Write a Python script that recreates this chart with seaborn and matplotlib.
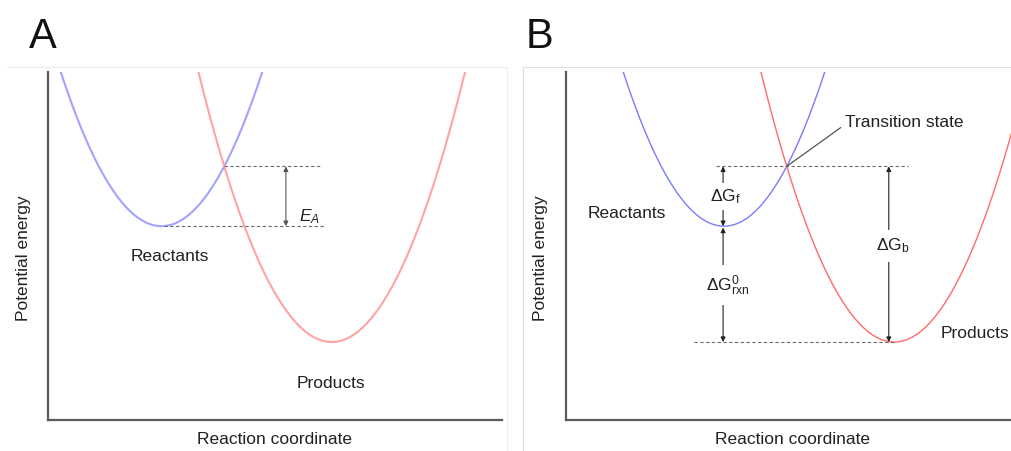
import numpy as np
import pandas as pd
import matplotlib
matplotlib.use("Agg")
import matplotlib.pyplot as plt
from matplotlib.lines import Line2D
import seaborn as sns

# --- harmonic wells (reaction coordinate units, arbitrary energy units) ---
well_names = ["Reactants", "Products"]
well_center = [2.50, 6.25]       # position of each minimum along the coordinate
well_energy = [5.57, 2.24]       # energy at each minimum
well_stiffness = [0.90, 0.90]    # curvature of each parabola

palette_a = {"Reactants": "#a3a3ff", "Products": "#ffa3a3"}
palette_b = {"Reactants": "#7a7aff", "Products": "#ff6a6a"}

TEXT = "#222222"
GUIDE = "#6a6a6a"

sns.set_theme(style="white")
plt.rcParams["font.family"] = ["Liberation Sans", "DejaVu Sans"]
plt.rcParams["mathtext.fontset"] = "custom"
plt.rcParams["mathtext.rm"] = "Liberation Sans"
plt.rcParams["mathtext.it"] = "Liberation Sans:italic"
plt.rcParams["mathtext.sf"] = "Liberation Sans"

FS = 12.5


def well_frame(xmin, xmax):
    x = np.linspace(xmin, xmax, 600)
    rows = []
    for name, c, e, k in zip(well_names, well_center, well_energy, well_stiffness):
        rows.append(pd.DataFrame({"coord": x, "energy": e + k * (x - c) ** 2, "state": name}))
    return pd.concat(rows, ignore_index=True)


def crossing():
    # intersection of the two parabolas between the minima
    (c1, c2), (e1, e2), (k1, k2) = well_center, well_energy, well_stiffness
    coeff = [k1 - k2, -2 * k1 * c1 + 2 * k2 * c2, k1 * c1**2 + e1 - k2 * c2**2 - e2]
    if abs(coeff[0]) < 1e-12:
        xs = -coeff[2] / coeff[1]
    else:
        roots = np.roots(coeff)
        xs = [r.real for r in roots if c1 <= r.real <= c2][0]
    return xs, e1 + k1 * (xs - c1) ** 2


def style_axes(ax, xlim, ylabel_x):
    ax.set_xlim(*xlim)
    ax.set_ylim(0, 10)
    ax.set_xticks([])
    ax.set_yticks([])
    sns.despine(ax=ax)
    for s in ("left", "bottom"):
        ax.spines[s].set_color("#5a5a5a")
        ax.spines[s].set_linewidth(1.6)
    ax.set_xlabel("Reaction coordinate", fontsize=FS, color=TEXT, va="center")
    ax.set_ylabel("Potential energy", fontsize=FS, color=TEXT, va="center")
    ax.xaxis.set_label_coords(0.5, -0.057)
    ax.yaxis.set_label_coords(ylabel_x, 0.466)
    ax.set_facecolor("none")


def vspan_arrow(ax, x, y0, y1, color, lw=0.8):
    ax.annotate("", xy=(x, y1), xytext=(x, y0),
                arrowprops=dict(arrowstyle="<|-|>", color=color, lw=lw,
                                mutation_scale=7, shrinkA=0, shrinkB=0))


W, H = 1012, 451
fig = plt.figure(figsize=(W / 100, H / 100), dpi=100)

# panel frames
fig.add_artist(Line2D([7 / W, 507 / W], [1 - 67 / H, 1 - 67 / H], color="#ececec", lw=0.8))
fig.add_artist(Line2D([507 / W, 507 / W], [0, 1 - 67 / H], color="#f0f0f0", lw=0.8))
fig.add_artist(Line2D([523 / W, 1.0], [1 - 67 / H, 1 - 67 / H], color="#e0e0e0", lw=0.8))
fig.add_artist(Line2D([523 / W, 523 / W], [0, 1 - 67 / H], color="#dcdcdc", lw=0.8))

ax_w, ax_h = 454 / W, 348 / H
ax_bottom = (H - 420) / H
axA = fig.add_axes([48 / W, ax_bottom, ax_w, ax_h])
axB = fig.add_axes([566 / W, ax_bottom, ax_w, ax_h])

xlimA = (0.0, 10.0)
xlimB = (-0.98, 9.02)

ts_x, ts_e = crossing()
r_c, p_c = well_center
r_e, p_e = well_energy

# ---------------- panel A ----------------
sns.lineplot(data=well_frame(*xlimA), x="coord", y="energy", hue="state",
             palette=palette_a, lw=1.5, legend=False, ax=axA, sort=False)
style_axes(axA, xlimA, -0.053)
dash = (0, (3, 2.2))
axA.plot([ts_x, 5.99], [ts_e, ts_e], color=GUIDE, lw=0.8, ls=dash)
axA.plot([r_c + 0.05, 6.10], [r_e, r_e], color=GUIDE, lw=0.8, ls=dash)
vspan_arrow(axA, 5.24, ts_e, r_e, "#555555")
axA.text(5.52, 5.83, r"$E_A$", fontsize=FS, color=TEXT, ha="left", va="center")
axA.text(2.69, 4.71, "Reactants", fontsize=FS, color=TEXT, ha="center", va="center")
axA.text(6.23, 1.06, "Products", fontsize=FS, color=TEXT, ha="center", va="center")

# ---------------- panel B ----------------
sns.lineplot(data=well_frame(*xlimB), x="coord", y="energy", hue="state",
             palette=palette_b, lw=1.0, legend=False, ax=axB, sort=False)
style_axes(axB, xlimB, -0.057)
axB.plot([2.32, 6.55], [ts_e, ts_e], color=GUIDE, lw=0.8, ls=dash)
axB.plot([1.84, p_c], [p_e, p_e], color=GUIDE, lw=0.8, ls=dash)

bbox = dict(boxstyle="square,pad=0.25", fc="white", ec="none")
x_fwd = r_c - 0.02
vspan_arrow(axB, x_fwd, ts_e, r_e, "#222222")
axB.text(x_fwd + 0.06, 6.42, r"$\Delta$G$_{\rm f}$", fontsize=FS, color=TEXT,
         ha="center", va="center", bbox=bbox)
vspan_arrow(axB, x_fwd, r_e - 0.04, p_e, "#222222")
axB.text(x_fwd + 0.1, 3.87, r"$\Delta$G$^{0}_{\rm rxn}$", fontsize=FS, color=TEXT,
         ha="center", va="center", bbox=dict(boxstyle="square,pad=0.45", fc="white", ec="none"))
x_back = p_c - 0.12
vspan_arrow(axB, x_back, ts_e, p_e, "#222222")
axB.text(x_back + 0.08, 5.0, r"$\Delta$G$_{\rm b}$", fontsize=FS, color=TEXT,
         ha="center", va="center", bbox=dict(boxstyle="square,pad=0.4", fc="white", ec="none"))

axB.annotate("Transition state", xy=(ts_x, ts_e), xytext=(5.17, 8.56),
             fontsize=FS, color=TEXT, ha="left", va="center",
             arrowprops=dict(arrowstyle="-", color="#555555", lw=0.9,
                             shrinkA=1, shrinkB=0, relpos=(0, 0.35)))
axB.text(0.36, 5.92, "Reactants", fontsize=FS, color=TEXT, ha="center", va="center")
axB.text(7.28, 2.5, "Products", fontsize=FS, color=TEXT, ha="left", va="center")

# panel letters
fig.text(29 / W, 1 - 48 / H, "A", fontsize=30, color="#111111", ha="left", va="baseline")
fig.text(526 / W, 1 - 48 / H, "B", fontsize=30, color="#111111", ha="left", va="baseline")

fig.savefig("out.png", dpi=100)
